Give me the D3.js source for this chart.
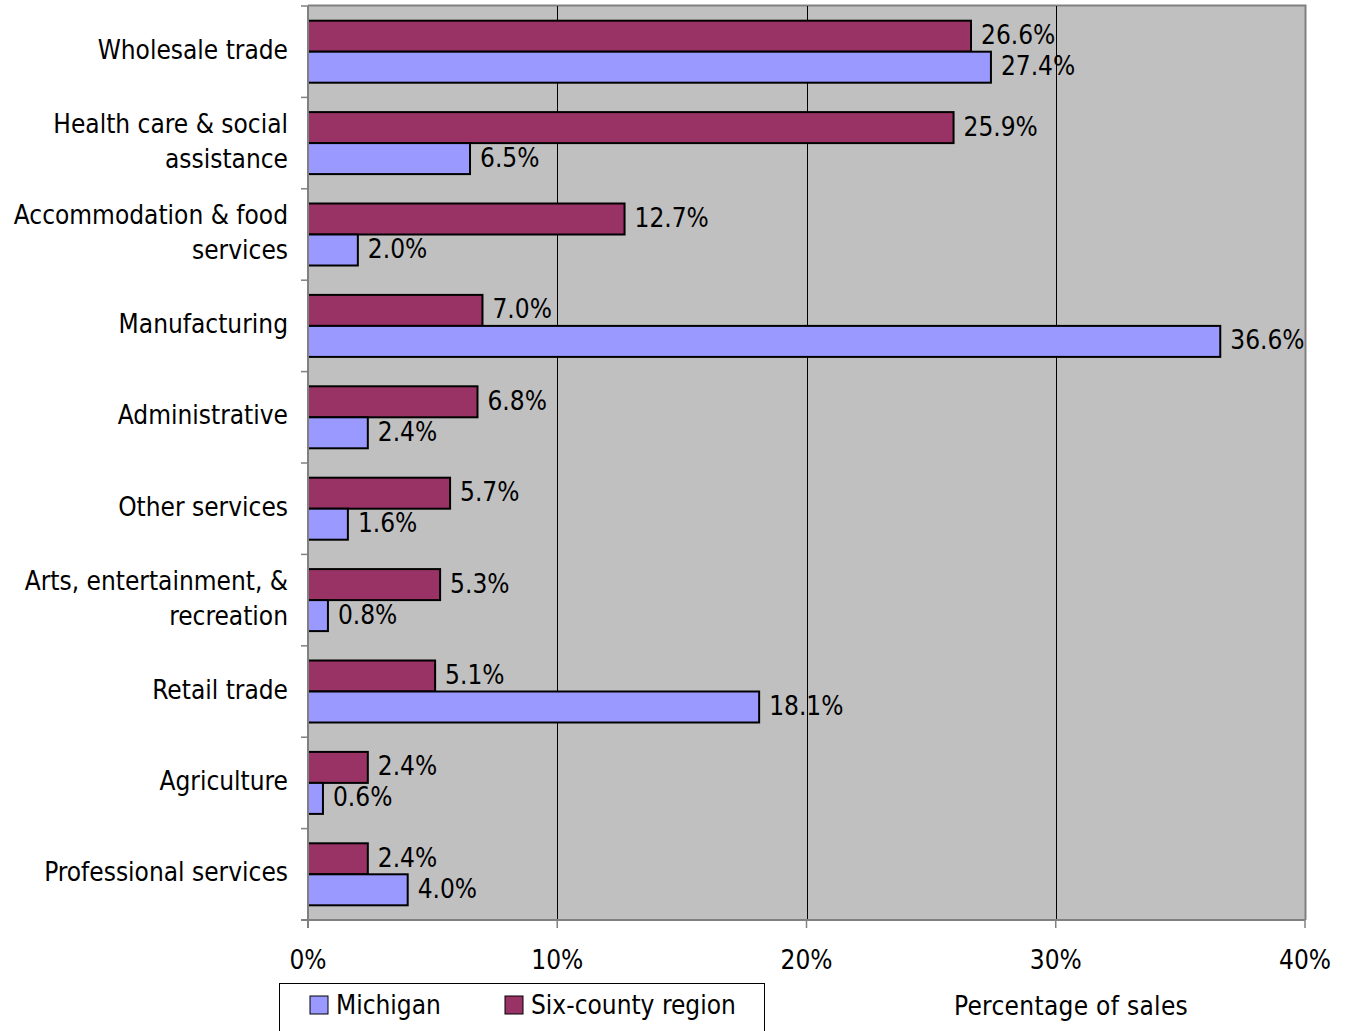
<!DOCTYPE html>
<html><head><meta charset="utf-8">
<script src="https://cdn.jsdelivr.net/npm/d3@7"></script>
<style>body{margin:0;background:#fff;} svg{display:block;}</style>
</head><body>
<svg id="c" width="1346" height="1031"></svg>
<script>
const categories = [
  ["Wholesale trade"],
  ["Health care & social","assistance"],
  ["Accommodation & food","services"],
  ["Manufacturing"],
  ["Administrative"],
  ["Other services"],
  ["Arts, entertainment, &","recreation"],
  ["Retail trade"],
  ["Agriculture"],
  ["Professional services"]
];
const sixCounty = [26.6, 25.9, 12.7, 7.0, 6.8, 5.7, 5.3, 5.1, 2.4, 2.4];
const michigan  = [27.4, 6.5, 2.0, 36.6, 2.4, 1.6, 0.8, 18.1, 0.6, 4.0];
const xTicks = [0, 10, 20, 30, 40];
const seriesNames = ["Michigan", "Six-county region"];
const colors = {mi: "#9999FF", six: "#993366"};

const FONT = "'Liberation Sans Narrow','DejaVu Sans Condensed','Arial Narrow',sans-serif";
const svg = d3.select("#c");
const L = 308, R = 1305, T = 6, B = 920;
const x = d3.scaleLinear().domain([0, 40]).range([L, R]);
const y = d3.scaleBand().domain(d3.range(categories.length)).range([T, B]);
const barH = 31;

svg.append("rect").attr("x", L).attr("y", T).attr("width", R - L).attr("height", B - T)
  .attr("fill", "#C0C0C0");
// plot border top/right
svg.append("path").attr("d", `M${L},${T-0.5}H${R+0.5}V${B}`).attr("fill", "none")
  .attr("stroke", "#808080").attr("stroke-width", 2);

// gridlines
svg.append("g").selectAll("line").data(xTicks.slice(1, -1)).join("line")
  .attr("x1", d => Math.round(x(d)) + 0.5).attr("x2", d => Math.round(x(d)) + 0.5)
  .attr("y1", T).attr("y2", B).attr("stroke", "#000").attr("stroke-width", 1);

// bars
const g = svg.append("g");
categories.forEach((c, i) => {
  const y0 = y(i) + (y.bandwidth() - 2 * barH) / 2;
  g.append("rect").attr("x", x(0)).attr("y", y0).attr("width", x(sixCounty[i]) - x(0)).attr("height", barH)
    .attr("fill", colors.six).attr("stroke", "#000").attr("stroke-width", 2);
  g.append("rect").attr("x", x(0)).attr("y", y0 + barH).attr("width", x(michigan[i]) - x(0)).attr("height", barH)
    .attr("fill", colors.mi).attr("stroke", "#000").attr("stroke-width", 2);
  g.append("text").attr("x", x(sixCounty[i]) + 10).attr("y", y0 + barH / 2 + 8)
    .text(sixCounty[i].toFixed(1) + "%");
  g.append("text").attr("x", x(michigan[i]) + 10).attr("y", y0 + barH * 1.5 + 8)
    .text(michigan[i].toFixed(1) + "%");
});
g.selectAll("text").attr("font-family", FONT).attr("font-size", 26).attr("fill", "#000");

// left axis
svg.append("line").attr("x1", L).attr("x2", L).attr("y1", T).attr("y2", B + 8)
  .attr("stroke", "#808080").attr("stroke-width", 2);
svg.append("g").selectAll("line").data(d3.range(categories.length + 1)).join("line")
  .attr("x1", L - 7).attr("x2", L)
  .attr("y1", d => T + d * y.bandwidth()).attr("y2", d => T + d * y.bandwidth())
  .attr("stroke", "#808080").attr("stroke-width", 1.5);
// bottom axis
svg.append("line").attr("x1", L - 7).attr("x2", R).attr("y1", B).attr("y2", B)
  .attr("stroke", "#808080").attr("stroke-width", 2);
svg.append("g").selectAll("line").data(xTicks).join("line")
  .attr("x1", d => x(d)).attr("x2", d => x(d)).attr("y1", B).attr("y2", B + 8)
  .attr("stroke", "#808080").attr("stroke-width", 1.5);
svg.append("g").selectAll("text").data(xTicks).join("text")
  .attr("x", d => x(d)).attr("y", 969).attr("text-anchor", "middle")
  .attr("font-family", FONT).attr("font-size", 26)
  .text(d => d + "%");

// category labels
const cl = svg.append("g").attr("font-family", FONT).attr("font-size", 26)
  .attr("text-anchor", "end");
categories.forEach((lines, i) => {
  const cy = y(i) + y.bandwidth() / 2;
  const n = lines.length;
  lines.forEach((ln, j) => {
    cl.append("text").attr("x", 288).attr("y", cy + 7 + (j - (n - 1) / 2) * 35).text(ln);
  });
});

// legend
svg.append("rect").attr("x", 279.5).attr("y", 983.5).attr("width", 485).attr("height", 60)
  .attr("fill", "#fff").attr("stroke", "#000").attr("stroke-width", 1);
const leg = [{name: seriesNames[0], c: colors.mi, sx: 310, tx: 336}, {name: seriesNames[1], c: colors.six, sx: 505, tx: 531}];
leg.forEach(l => {
  svg.append("rect").attr("x", l.sx).attr("y", 996).attr("width", 18).attr("height", 18)
    .attr("fill", l.c).attr("stroke", "#000").attr("stroke-width", 1);
  svg.append("text").attr("x", l.tx).attr("y", 1014).attr("font-family", FONT).attr("font-size", 26)
    .text(l.name);
});
svg.append("text").attr("x", 1071).attr("y", 1015).attr("text-anchor", "middle")
  .attr("font-family", FONT).attr("font-size", 26).attr("letter-spacing", 0.3).text("Percentage of sales");
</script>
</body></html>
